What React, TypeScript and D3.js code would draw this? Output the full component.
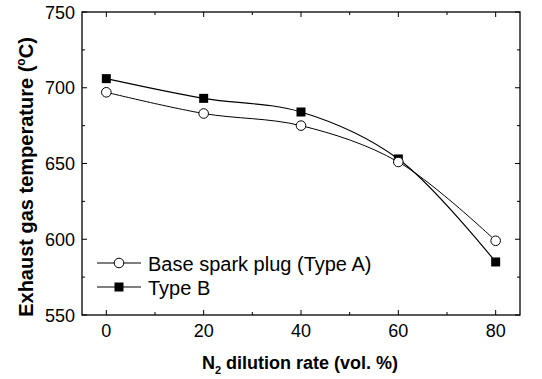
import * as d3 from "d3";

const dilution = [0, 20, 40, 60, 80];
const typeA = [697, 683, 675, 651, 599];
const typeB = [706, 693, 684, 653, 585];
const xTicks = [0, 20, 40, 60, 80];
const yTicks = [550, 600, 650, 700, 750];
const seriesNames = ["Base spark plug (Type A)", "Type B"];

const W = 542;
const H = 379;
const mg = { top: 12, right: 22, bottom: 64, left: 82 };
const FONT = "'Liberation Sans', Arial, sans-serif";

export default function App() {
  const x = d3.scaleLinear().domain([-5, 85]).range([mg.left, W - mg.right]);
  const y = d3.scaleLinear().domain([550, 750]).range([H - mg.bottom, mg.top]);

  const line = d3
    .line<number>()
    .x((_, i) => x(dilution[i]))
    .y((d) => y(d))
    .curve(d3.curveCatmullRom.alpha(0.5));

  const xMinor = d3.range(10, 90, 20);
  const yMinor = d3.range(575, 750, 50);
  const x0 = mg.left;
  const x1 = W - mg.right;
  const y0 = H - mg.bottom;
  const y1 = mg.top;

  return (
    <svg
      width={W}
      height={H}
      style={{ position: "absolute", left: 0, top: 0, background: "#fff" }}
      fontFamily={FONT}
    >
      {/* ticks, inward on all four sides */}
      <g stroke="#000" strokeWidth={1}>
        {xTicks.map((t) => (
          <g key={`xt${t}`}>
            <line x1={x(t)} x2={x(t)} y1={y0} y2={y0 - 5} />
            <line x1={x(t)} x2={x(t)} y1={y1} y2={y1 + 5} />
          </g>
        ))}
        {xMinor.map((t) => (
          <g key={`xm${t}`}>
            <line x1={x(t)} x2={x(t)} y1={y0} y2={y0 - 3} />
            <line x1={x(t)} x2={x(t)} y1={y1} y2={y1 + 3} />
          </g>
        ))}
        {yTicks.map((t) => (
          <g key={`yt${t}`}>
            <line x1={x0} x2={x0 + 5} y1={y(t)} y2={y(t)} />
            <line x1={x1} x2={x1 - 5} y1={y(t)} y2={y(t)} />
          </g>
        ))}
        {yMinor.map((t) => (
          <g key={`ym${t}`}>
            <line x1={x0} x2={x0 + 3} y1={y(t)} y2={y(t)} />
            <line x1={x1} x2={x1 - 3} y1={y(t)} y2={y(t)} />
          </g>
        ))}
      </g>
      <rect
        x={x0}
        y={y1}
        width={x1 - x0}
        height={y0 - y1}
        fill="none"
        stroke="#000"
        strokeWidth={1.3}
      />

      {/* tick labels */}
      {xTicks.map((t) => (
        <text key={`xl${t}`} x={x(t)} y={y0 + 22} fontSize={18} textAnchor="middle">
          {t}
        </text>
      ))}
      {yTicks.map((t) => (
        <text key={`yl${t}`} x={x0 - 7} y={y(t) + 6.5} fontSize={18} textAnchor="end">
          {t}
        </text>
      ))}

      {/* axis titles */}
      <text x={(x0 + x1) / 2 - 1} y={369} fontSize={18} fontWeight="bold" textAnchor="middle">
        N<tspan fontSize={11} dy={5}>2</tspan>
        <tspan dy={-5}> dilution rate (vol. %)</tspan>
      </text>
      <text
        transform={`translate(33, 177) rotate(-90)`}
        fontSize={20}
        fontWeight="bold"
        textAnchor="middle"
      >
        Exhaust gas temperature (<tspan fontSize={12} dy={-8}>o</tspan>
        <tspan dy={8}>C)</tspan>
      </text>

      {/* series */}
      <path d={line(typeA) ?? ""} fill="none" stroke="#000" strokeWidth={1} />
      <path d={line(typeB) ?? ""} fill="none" stroke="#000" strokeWidth={1.2} />
      {typeB.map((v, i) => (
        <rect key={`b${i}`} x={x(dilution[i]) - 4.5} y={y(v) - 4.5} width={9} height={9} fill="#000" />
      ))}
      {typeA.map((v, i) => (
        <circle key={`a${i}`} cx={x(dilution[i])} cy={y(v)} r={4.8} fill="#fff" stroke="#000" strokeWidth={1} />
      ))}

      {/* legend */}
      <g>
        <line x1={97} x2={141} y1={263} y2={263} stroke="#000" strokeWidth={1} />
        <circle cx={119} cy={263} r={4.8} fill="#fff" stroke="#000" strokeWidth={1} />
        <text x={148} y={270.5} fontSize={20}>{seriesNames[0]}</text>
        <line x1={97} x2={141} y1={287} y2={287} stroke="#000" strokeWidth={1.2} />
        <rect x={114.5} y={282.5} width={9} height={9} fill="#000" />
        <text x={148} y={294.5} fontSize={20}>{seriesNames[1]}</text>
      </g>
    </svg>
  );
}
